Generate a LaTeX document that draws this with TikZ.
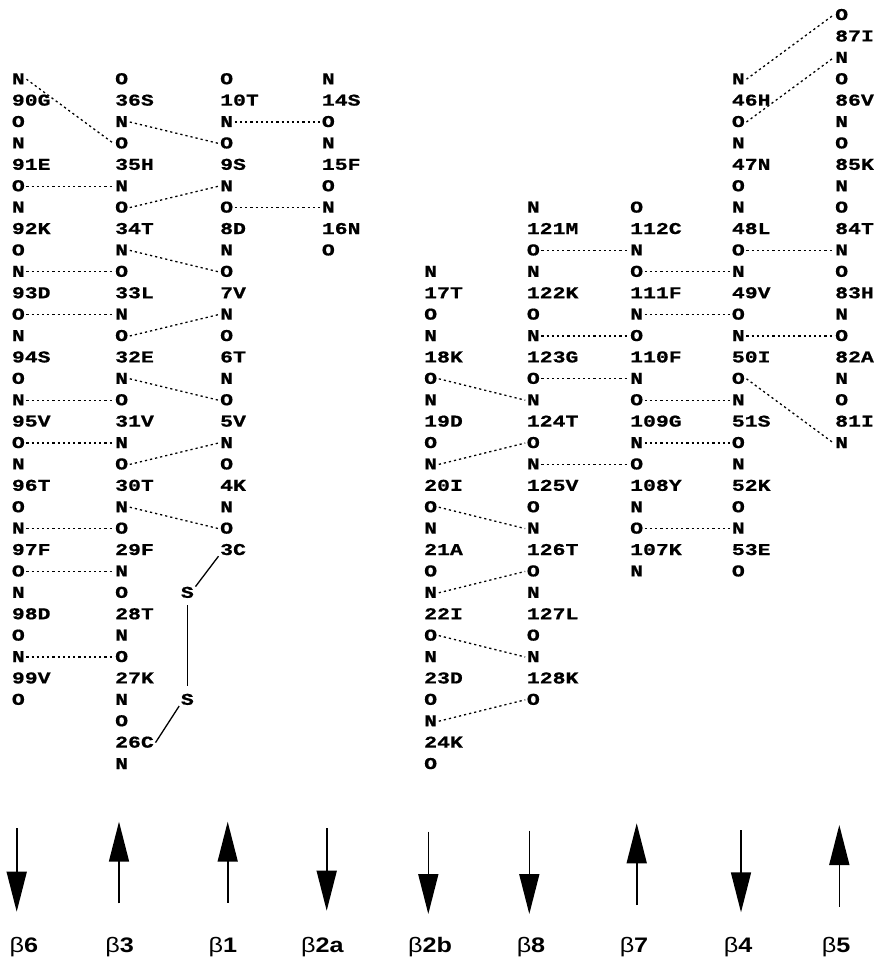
\documentclass[tikz,border=0pt]{standalone}
\usepackage{fontspec}
\usetikzlibrary{arrows.meta}
\newfontfamily\atomfont[FakeStretch=1.3,FakeBold=0.8]{Liberation Mono}
\newfontfamily\labfont[FakeStretch=1.2]{Liberation Sans}
\begin{document}
\begin{tikzpicture}[x=1pt,y=-1pt,
  atom/.style={font=\atomfont\bfseries\fontsize{16.5}{17}\selectfont, inner xsep=1.5pt, inner ysep=1pt, anchor=west, text height=10pt, text depth=0pt},
  hb/.style={draw, line width=1.3pt, dash pattern=on 2.2pt off 3pt},
  ss/.style={draw, line width=1.3pt},
  strand/.style={line width=1.6pt, -{Triangle[width=20pt,length=40pt]}},
  lab/.style={font=\labfont\fontsize{21}{22}\selectfont, anchor=base, inner sep=0pt}]

\useasboundingbox (0,0) rectangle (876,963);

% beta6
\foreach \t [count=\k from 3] in {N,90G,O,N,91E,O,N,92K,O,N,93D,O,N,94S,O,N,95V,O,N,96T,O,N,97F,O,N,98D,O,N,99V,O}
  \node[atom] (b6-\k) at (10.2,{15+21.4*\k}) {\t};
% beta3
\foreach \t [count=\k from 3] in {O,36S,N,O,35H,N,O,34T,N,O,33L,N,O,32E,N,O,31V,N,O,30T,N,O,29F,N,O,28T,N,O,27K,N,O,26C,N}
  \node[atom] (b3-\k) at (113.5,{15+21.4*\k}) {\t};
% beta1
\foreach \t [count=\k from 3] in {O,10T,N,O,9S,N,O,8D,N,O,7V,N,O,6T,N,O,5V,N,O,4K,N,O,3C}
  \node[atom] (b1-\k) at (218.5,{15+21.4*\k}) {\t};
% beta2a
\foreach \t [count=\k from 3] in {N,14S,O,N,15F,O,N,16N,O}
  \node[atom] (b2a-\k) at (320.2,{15+21.4*\k}) {\t};
% beta2b
\foreach \t [count=\k from 12] in {N,17T,O,N,18K,O,N,19D,O,N,20I,O,N,21A,O,N,22I,O,N,23D,O,N,24K,O}
  \node[atom] (b2b-\k) at (422.5,{15+21.4*\k}) {\t};
% beta8
\foreach \t [count=\k from 9] in {N,121M,O,N,122K,O,N,123G,O,N,124T,O,N,125V,O,N,126T,O,N,127L,O,N,128K,O}
  \node[atom] (b8-\k) at (525.2,{15+21.4*\k}) {\t};
% beta7
\foreach \t [count=\k from 9] in {O,112C,N,O,111F,N,O,110F,N,O,109G,N,O,108Y,N,O,107K,N}
  \node[atom] (b7-\k) at (628.5,{15+21.4*\k}) {\t};
% beta4
\foreach \t [count=\k from 3] in {N,46H,O,N,47N,O,N,48L,O,N,49V,O,N,50I,O,N,51S,O,N,52K,O,N,53E,O}
  \node[atom] (b4-\k) at (730.2,{15+21.4*\k}) {\t};
% beta5
\foreach \t [count=\k from 0] in {O,87I,N,O,86V,N,O,85K,N,O,84T,N,O,83H,N,O,82A,N,O,81I,N}
  \node[atom] (b5-\k) at (833.5,{15+21.4*\k}) {\t};

% disulfide
\node[atom] (s1) at (179.2,{15+21.4*27}) {S};
\node[atom] (s2) at (179.2,{15+21.4*32}) {S};
\draw[ss] (b1-25.south west) -- (s1.north east);
\draw[ss, shorten <=6pt, shorten >=8pt] (s1.south) -- (s2.north);
\draw[ss] (s2.south west) -- (b3-34.east);

% hydrogen bonds
\foreach \a/\b in {b6-3/b3-6, b3-5/b1-6, b1-5/b2a-5, b6-8/b3-8, b3-9/b1-8, b1-9/b2a-9,
  b3-11/b1-12, b6-12/b3-12, b6-14/b3-14, b3-15/b1-14, b3-17/b1-18, b6-18/b3-18,
  b6-20/b3-20, b3-21/b1-20, b3-23/b1-24, b6-24/b3-24, b6-26/b3-26, b6-30/b3-30,
  b8-11/b7-11, b7-12/b4-12, b4-11/b5-11, b4-3/b5-0, b4-5/b5-2, b7-14/b4-14,
  b4-15/b5-15, b8-15/b7-15, b8-17/b7-17, b7-18/b4-18, b4-17/b5-20, b2b-17/b8-18,
  b7-20/b4-20, b8-21/b7-21, b2b-21/b8-20, b7-24/b4-24, b2b-23/b8-24, b2b-27/b8-26,
  b2b-29/b8-30, b2b-33/b8-32}
  \draw[hb] (\a.east) -- (\b.west);

% strand direction arrows
\coordinate (a6s) at (16.7,828.3);  \coordinate (a6e) at (16.7,911.7);
\coordinate (a3s) at (119,903.3);   \coordinate (a3e) at (119,821.7);
\coordinate (a1s) at (227.7,902.7); \coordinate (a1e) at (227.7,821.7);
\coordinate (a2as) at (326.7,828.3); \coordinate (a2ae) at (326.7,910.7);
\coordinate (a2bs) at (428.3,831.7); \coordinate (a2be) at (428.3,914);
\coordinate (a8s) at (529.3,830.7); \coordinate (a8e) at (529.3,914);
\coordinate (a7s) at (636.7,905);   \coordinate (a7e) at (636.7,823.3);
\coordinate (a4s) at (741,830);     \coordinate (a4e) at (741,912.3);
\coordinate (a5s) at (839.3,906.7); \coordinate (a5e) at (839.3,825);
\foreach \n in {6,3,1,2a,2b,8,7,4,5}
  \draw[strand] (a\n s) -- (a\n e);

% strand labels
\node[lab] (l6)  at (24,952.7)    {β\textbf{6}};
\node[lab] (l3)  at (119.7,952.7) {β\textbf{3}};
\node[lab] (l1)  at (223,952.7)   {β\textbf{1}};
\node[lab] (l2a) at (322.5,952.7) {β\textbf{2a}};
\node[lab] (l2b) at (430,952.7)   {β\textbf{2b}};
\node[lab] (l8)  at (531,952.7)   {β\textbf{8}};
\node[lab] (l7)  at (634,952.7)   {β\textbf{7}};
\node[lab] (l4)  at (738,952.7)   {β\textbf{4}};
\node[lab] (l5)  at (836,952.7)   {β\textbf{5}};
\end{tikzpicture}
\end{document}
